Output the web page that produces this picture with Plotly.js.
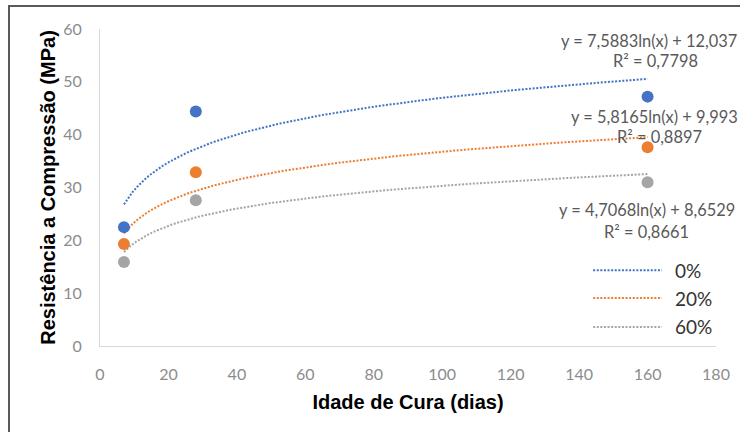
<!DOCTYPE html>
<html>
<head>
<meta charset="utf-8">
<script src="https://cdn.plot.ly/plotly-3.0.1.min.js"></script>
<style>
  html, body { margin: 0; padding: 0; background: #fff; overflow: hidden; }
  #chart { width: 740px; height: 432px; }
  #frame { position: absolute; left: 8px; top: 5px; width: 800px; height: 500px;
           border-left: 2px solid #5a5a5a; border-top: 2px solid #5a5a5a; pointer-events: none; }
</style>
</head>
<body>
<div id="chart"></div>
<div id="frame"></div>
<script>
// ---- data ----
const days = [7, 28, 160];
const r0  = [22.5, 44.4, 47.2];
const r20 = [19.3, 32.9, 37.6];
const r60 = [15.9, 27.6, 31.0];
const seriesNames = ['0%', '20%', '60%'];
const seriesColors = ['#4472C4', '#ED7D31', '#A5A5A5'];
// logarithmic trendline coefficients printed on the chart: y = a ln(x) + b
const trendA = [7.5883, 5.8165, 4.7068];
const trendB = [12.037, 9.993, 8.6529];
const eqLabels = ['y = 7,5883ln(x) + 12,037', 'y = 5,8165ln(x) + 9,993', 'y = 4,7068ln(x) + 8,6529'];
const r2Labels = ['R² = 0,7798', 'R² = 0,8897', 'R² = 0,8661'];
const xTicks = [0, 20, 40, 60, 80, 100, 120, 140, 160, 180];
const yTicks = [0, 10, 20, 30, 40, 50, 60];

const values = [r0, r20, r60];
const traces = [];
const dotDash = '2px,1.6px';

// trendlines (Excel-style, drawn over the data span)
for (let s = 0; s < 3; s++) {
  const tx = [], ty = [];
  const x0 = days[0], x1 = days[days.length - 1];
  for (let i = 0; i <= 120; i++) {
    const x = x0 + (x1 - x0) * i / 120;
    tx.push(x);
    ty.push(trendA[s] * Math.log(x) + trendB[s]);
  }
  traces.push({
    x: tx, y: ty, type: 'scatter', mode: 'lines', name: seriesNames[s],
    line: { color: seriesColors[s], width: 2, dash: dotDash },
    hoverinfo: 'skip', showlegend: false
  });
}
// data markers
for (let s = 0; s < 3; s++) {
  traces.push({
    x: days, y: values[s], type: 'scatter', mode: 'markers', name: seriesNames[s],
    marker: { color: seriesColors[s], size: 12 }, showlegend: false
  });
}

const annFont = { family: 'Lato, "Open Sans", sans-serif', size: 16.4, color: '#595959' };
// [eq left x, eq y, R² centre x, R² y]
const eqPos = [[134.2, 57.8, 162.2, 54.0], [137.0, 43.4, 163.6, 39.7], [133.5, 25.9, 159.8, 21.7]];
const annotations = [];
for (let s = 0; s < 3; s++) {
  annotations.push({ x: eqPos[s][0], y: eqPos[s][1], xref: 'x', yref: 'y', text: eqLabels[s],
    showarrow: false, xanchor: 'left', yanchor: 'middle', font: annFont });
  annotations.push({ x: eqPos[s][2], y: eqPos[s][3], xref: 'x', yref: 'y', text: r2Labels[s],
    showarrow: false, xanchor: 'center', yanchor: 'middle', font: annFont });
}

// custom legend (long dotted samples like the original)
const legY = [14.35, 9.07, 3.6];
const shapes = [];
for (let s = 0; s < 3; s++) {
  shapes.push({ type: 'line', xref: 'x', yref: 'y', x0: 144.1, x1: 164.2, y0: legY[s], y1: legY[s],
    line: { color: seriesColors[s], width: 2, dash: dotDash } });
  annotations.push({ x: 167.4, y: legY[s], xref: 'x', yref: 'y', text: seriesNames[s],
    showarrow: false, xanchor: 'left', yanchor: 'middle',
    font: { family: 'Lato, "Open Sans", sans-serif', size: 19, color: '#333333' } });
}

const tickFont = { family: 'Lato, "Open Sans", sans-serif', size: 16, color: '#8c8c8c' };
const titleFont = { family: '"Liberation Sans", Arial, sans-serif', size: 20, color: '#000', weight: 'bold' };

const layout = {
  width: 740, height: 432,
  margin: { l: 100, r: 24, t: 29, b: 86 },
  paper_bgcolor: '#fff', plot_bgcolor: '#fff',
  showlegend: false,
  xaxis: {
    range: [0, 180], tickvals: xTicks, ticktext: xTicks.map(String),
    showgrid: false, zeroline: false, showline: true, linecolor: '#d9d9d9', linewidth: 1,
    ticks: '', ticklabelstandoff: 14, tickfont: tickFont,
    title: { text: '<b>Idade de Cura (dias)</b>', font: titleFont, standoff: 12 }
  },
  yaxis: {
    range: [0, 60], tickvals: yTicks, ticktext: yTicks.map(String),
    showgrid: false, zeroline: false, showline: true, linecolor: '#d9d9d9', linewidth: 1,
    ticks: '', ticklabelstandoff: 14, tickfont: tickFont,
    title: { text: '<b>Resistência a Compressão (MPa)</b>', font: titleFont, standoff: 2 }
  },
  annotations: annotations,
  shapes: shapes
};

Plotly.newPlot('chart', traces, layout, { staticPlot: true, displayModeBar: false });
</script>
</body>
</html>
